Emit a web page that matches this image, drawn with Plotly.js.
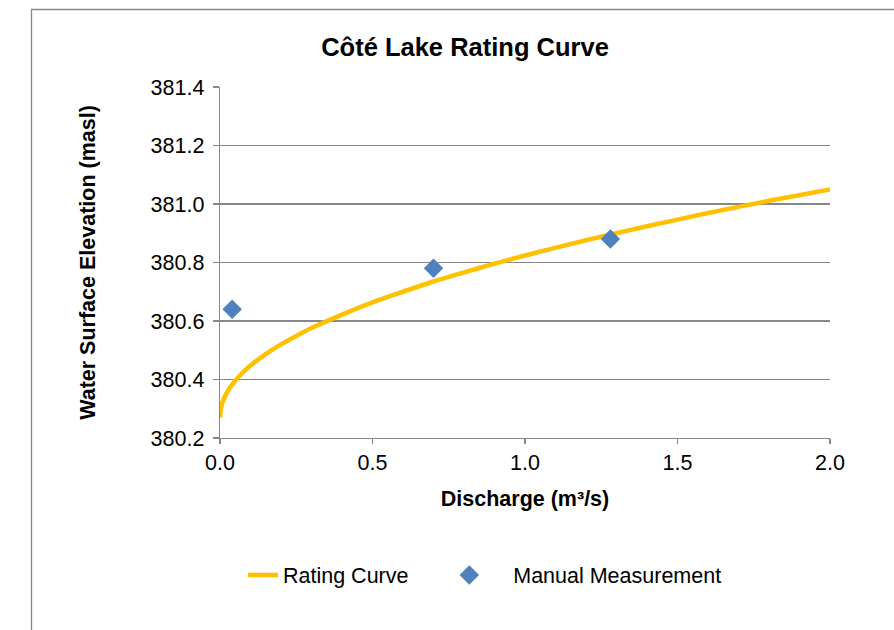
<!DOCTYPE html>
<html>
<head>
<meta charset="utf-8">
<script src="https://cdn.plot.ly/plotly-3.0.1.min.js"></script>
<style>
  html, body { margin: 0; padding: 0; background: #ffffff; }
  #chart { width: 894px; height: 630px; }
</style>
</head>
<body>
<div id="chart"></div>
<script>
// Rating curve
const curveQ = [0, 0.002, 0.005, 0.01, 0.02, 0.035, 0.05, 0.075, 0.1, 0.15, 0.2, 0.25, 0.3, 0.4, 0.5, 0.6, 0.7, 0.8, 0.9, 1.0, 1.2, 1.4, 1.6, 1.8, 2.0];
const curveH = [380.27, 380.296, 380.31, 380.327, 380.35, 380.376, 380.396, 380.424, 380.448, 380.487, 380.52, 380.549, 380.576, 380.622, 380.664, 380.70, 380.735, 380.766, 380.796, 380.824, 380.876, 380.924, 380.969, 381.011, 381.05];

// Manual measurements
const measQ = [0.04, 0.70, 1.28];
const measH = [380.64, 380.78, 380.88];

const titleText = "Côté Lake Rating Curve";
const xTitle = "Discharge (m³/s)";
const yTitle = "Water Surface Elevation (masl)";
const curveName = "Rating Curve";
const measName = "Manual Measurement";

const FONT = "Liberation Sans, Arial, sans-serif";
const GRID = "#878787";
const FS = 21.5;
const NB = "\u00a0";

const traces = [
  {
    x: curveQ, y: curveH, name: curveName + NB.repeat(6), type: "scatter", mode: "lines",
    line: { color: "#FFC000", width: 4.5, shape: "spline", smoothing: 0.6 },
    hoverinfo: "x+y"
  },
  {
    x: measQ, y: measH, name: NB.repeat(4) + measName, type: "scatter", mode: "markers",
    marker: { symbol: "diamond", color: "#4F81BD", size: 15, line: { width: 0 } },
    hoverinfo: "x+y"
  }
];

const layout = {
  width: 894, height: 630,
  margin: { l: 220, r: 64, t: 87, b: 192 },
  paper_bgcolor: "#ffffff",
  plot_bgcolor: "#ffffff",
  font: { family: FONT, size: FS, color: "#000000" },
  title: {
    text: "<b>" + titleText + "</b>",
    font: { family: FONT, size: 25.5, color: "#000000" },
    xref: "container", x: 465 / 894, xanchor: "center",
    yref: "container", y: 1 - 47 / 630, yanchor: "middle"
  },
  xaxis: {
    range: [0, 2], dtick: 0.5, tick0: 0, tickformat: ".1f",
    showgrid: false, zeroline: false,
    showline: true, linecolor: GRID, linewidth: 1.3,
    ticks: "outside", ticklen: 5, tickcolor: GRID, tickwidth: 1.3,
    tickfont: { family: FONT, size: FS, color: "#000000" },
    title: { text: "<b>" + xTitle + "</b>", font: { family: FONT, size: FS, color: "#000000" }, standoff: 17 },
    fixedrange: true
  },
  yaxis: {
    range: [380.2, 381.4], dtick: 0.2, tick0: 380.2, tickformat: ".1f",
    showgrid: true, gridcolor: GRID, gridwidth: 1.3, zeroline: false,
    showline: true, linecolor: GRID, linewidth: 1.3,
    ticks: "outside", ticklen: 6, tickcolor: GRID, tickwidth: 1.3,
    ticklabelstandoff: 4,
    tickfont: { family: FONT, size: FS, color: "#000000" },
    title: { text: "<b>" + yTitle + "</b>", font: { family: FONT, size: FS, color: "#000000" }, standoff: 49 },
    fixedrange: true
  },
  showlegend: true,
  legend: {
    orientation: "h",
    xref: "container", x: 243 / 894, xanchor: "left",
    yref: "container", y: 1 - 575 / 630, yanchor: "middle",
    font: { family: FONT, size: FS, color: "#000000" },
    itemwidth: 30,
    bgcolor: "rgba(0,0,0,0)"
  },
  shapes: [
    {
      type: "rect", xref: "paper", yref: "paper",
      x0: (31.5 - 220) / 610, x1: (910 - 220) / 610,
      y0: (438 - 660) / 351, y1: (438 - 9.5) / 351,
      line: { color: "#868686", width: 1.3 }, fillcolor: "rgba(0,0,0,0)", layer: "below"
    }
  ]
};

Plotly.newPlot("chart", traces, layout, { displayModeBar: false, staticPlot: true });
</script>
</body>
</html>
